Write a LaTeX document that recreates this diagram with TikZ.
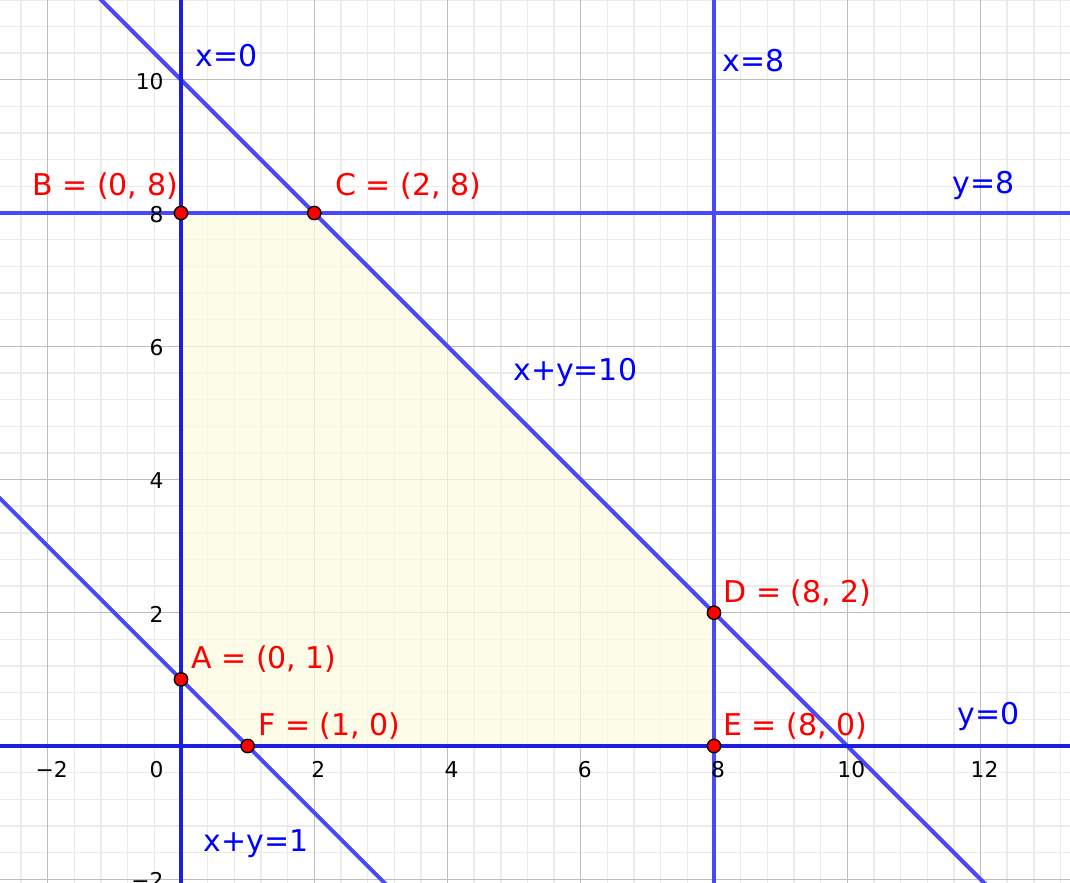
\documentclass[tikz,border=0pt]{standalone}
\usepackage{fontspec}
\setmainfont{DejaVu Sans}
\definecolor{lineblue}{RGB}{72,72,255}
\definecolor{axblue}{RGB}{30,30,225}
\definecolor{regionfill}{RGB}{252,252,225}
\begin{document}
\begin{tikzpicture}[x=1cm,y=1cm,
  gridminor/.style={draw=black!8, line width=0.6pt},
  gridmajor/.style={draw=black!26, line width=0.6pt},
  bline/.style={draw=lineblue, line width=1.7pt},
  axline/.style={draw=axblue, line width=1.7pt},
  ptmark/.style={circle, fill=red, draw=black, line width=0.6pt, minimum size=0.2cm, inner sep=0pt},
  redlab/.style={text=red, font=\fontsize{12.8}{14}\selectfont, anchor=base west, inner sep=0pt},
  bluelab/.style={text=blue, font=\fontsize{12.8}{14}\selectfont, anchor=base west, inner sep=0pt},
  ticklab/.style={text=black, font=\fontsize{9.3}{11}\selectfont, inner sep=0pt}]
\useasboundingbox (-2.7167,-2.0413) rectangle (13.3433,11.197);
\clip (-2.7167,-2.0413) rectangle (13.3433,11.197);
\fill[white] (-2.7167,-2.0413) rectangle (13.3433,11.197);
% minor grid
\foreach \i in {-7,...,34} \draw[gridminor] ({\i*0.4},-2.2) -- ({\i*0.4},11.4);
\foreach \j in {-6,...,28} \draw[gridminor] (-2.9,{\j*0.4}) -- (13.5,{\j*0.4});
% major grid
\foreach \i in {-1,...,6} \draw[gridmajor] ({\i*2},-2.2) -- ({\i*2},11.4);
\foreach \j in {-1,...,5} \draw[gridmajor] (-2.9,{\j*2}) -- (13.5,{\j*2});
% vertices
\coordinate (A) at (0,1);
\coordinate (B) at (0,8);
\coordinate (C) at (2,8);
\coordinate (D) at (8,2);
\coordinate (E) at (8,0);
\coordinate (F) at (1,0);
% feasible region
\fill[regionfill, opacity=0.7] (A) -- (B) -- (C) -- (D) -- (E) -- (F) -- cycle;
% line ends
\coordinate (x0a) at (0,-2.3); \coordinate (x0b) at (0,11.5);
\coordinate (y0a) at (-3,0); \coordinate (y0b) at (13.6,0);
\coordinate (x8a) at (8,-2.3); \coordinate (x8b) at (8,11.5);
\coordinate (y8a) at (-3,8); \coordinate (y8b) at (13.6,8);
\coordinate (s10a) at (-2,12); \coordinate (s10b) at (12.5,-2.5);
\coordinate (s1a) at (-3,4); \coordinate (s1b) at (3.5,-2.5);
% lines
\draw[bline] (x8a) -- (x8b);
\draw[bline] (y8a) -- (y8b);
\draw[bline] (s10a) -- (s10b);
\draw[bline] (s1a) -- (s1b);
\draw[axline] (x0a) -- (x0b);
\draw[axline] (y0a) -- (y0b);
% tick labels x
\foreach \v/\t in {-2/−2,2/2,4/4,6/6,8/8,10/10,12/12}
  \node[ticklab, anchor=base] (tx\v) at ({\v+0.06},-0.48) {\t};
\node[ticklab, anchor=base east] (tx0) at (-0.255,-0.48) {0};
% tick labels y
\foreach \v/\t in {-2/−2,2/2,4/4,6/6,8/8,10/10}
  \node[ticklab, anchor=east] (ty\v) at (-0.255,{\v-0.02}) {\t};
% line labels
\node[bluelab] (lx0) at (0.21,10.20) {x=0};
\node[bluelab] (lx8) at (8.12,10.12) {x=8};
\node[bluelab] (ly8) at (11.57,8.30) {y=8};
\node[bluelab] (ly0) at (11.65,0.33) {y=0};
\node[bluelab] (ls10) at (4.98,5.49) {x+y=10};
\node[bluelab] (ls1) at (0.33,-1.59) {x+y=1};
% points
\node[ptmark] (pA) at (A) {};
\node[ptmark] (pB) at (B) {};
\node[ptmark] (pC) at (C) {};
\node[ptmark] (pD) at (D) {};
\node[ptmark] (pE) at (E) {};
\node[ptmark] (pF) at (F) {};
% point labels
\node[redlab] (lB) at (-2.236,8.27) {B = (0, 8)};
\node[redlab] (lC) at (2.311,8.27) {C = (2, 8)};
\node[redlab] (lA) at (0.150,1.17) {A = (0, 1)};
\node[redlab] (lF) at (1.156,0.165) {F = (1, 0)};
\node[redlab] (lD) at (8.135,2.16) {D = (8, 2)};
\node[redlab] (lE) at (8.135,0.165) {E = (8, 0)};
\end{tikzpicture}
\end{document}
